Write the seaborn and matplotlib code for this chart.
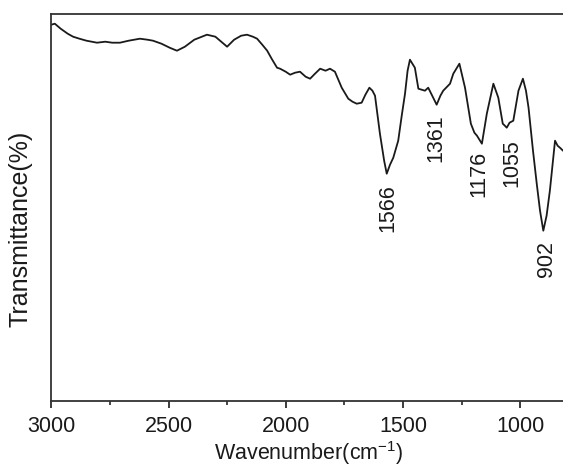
import numpy as np
import pandas as pd
import matplotlib
matplotlib.use("Agg")
import matplotlib.pyplot as plt
import seaborn as sns

# Spectrum (wavenumber cm^-1, relative transmittance)
wavenumber = [3000, 2985, 2960, 2930, 2907, 2880, 2850, 2805, 2770, 2740, 2707,
              2670, 2622, 2590, 2566, 2530, 2495, 2464, 2430, 2390, 2336, 2300,
              2270, 2250, 2220, 2190, 2165, 2140, 2122, 2100, 2079, 2060, 2037,
              2024, 2000, 1981, 1960, 1939, 1915, 1896, 1875, 1853, 1830, 1811,
              1790, 1761, 1733, 1715, 1697, 1676, 1660, 1643, 1630, 1619, 1598,
              1580, 1569, 1555, 1541, 1520, 1505, 1491, 1480, 1470, 1449, 1434,
              1420, 1406, 1392, 1375, 1356, 1340, 1328, 1299, 1285, 1259, 1235,
              1210, 1195, 1184, 1163, 1142, 1114, 1093, 1074, 1065, 1057, 1045,
              1029, 1007, 988, 975, 964, 945, 929, 915, 901, 887, 873, 851, 840,
              830, 817]
transmittance = [376, 377, 372, 367, 364, 362, 360, 358, 359, 358, 358,
                 360, 362, 361, 360, 357, 353, 350, 354, 361, 366, 364,
                 358, 354, 361, 365, 366, 364, 362, 356, 350, 342, 333,
                 332, 329, 326, 328, 329, 324, 322, 327, 332, 330, 332,
                 329, 313, 302, 299, 297, 298, 306, 313, 310, 305, 267,
                 240, 227, 236, 243, 260, 285, 307, 330, 341, 333, 312,
                 311, 310, 313, 305, 296, 305, 310, 317, 327, 337, 313,
                 277, 268, 265, 257, 287, 317, 303, 277, 275, 273, 278,
                 280, 310, 322, 310, 293, 250, 217, 190, 170, 185, 210,
                 260, 255, 253, 250]

peak_labels = [1566, 1361, 1176, 1055, 902]

df = pd.DataFrame({"Wavenumber": wavenumber, "Transmittance": transmittance})

sns.set_style("ticks")
plt.rcParams["font.family"] = ["Liberation Sans", "DejaVu Sans"]
plt.rcParams["mathtext.fontset"] = "custom"
plt.rcParams["mathtext.rm"] = "Liberation Sans"

fig = plt.figure(figsize=(5.63, 4.67), dpi=100)
ax = fig.add_axes([51.3 / 563, 66.3 / 467, 1 - 51.3 / 563, (400.7 - 14) / 467])

sns.lineplot(data=df, x="Wavenumber", y="Transmittance", ax=ax,
             color="#1a1a1a", linewidth=1.3, sort=False, estimator=None)

ax.set_xlim(3000, 817)
ax.set_ylim(0, 386.7)
ax.set_yticks([])
ax.set_xticks([3000, 2500, 2000, 1500, 1000])
ax.set_xticks([2750, 2250, 1750, 1250], minor=True)
ax.tick_params(axis="x", which="major", direction="out", length=5, width=1.2,
               labelsize=15.5, pad=6, colors="#1a1a1a")
ax.tick_params(axis="x", which="minor", direction="out", length=3, width=1.2)
for side in ["left", "bottom", "top"]:
    ax.spines[side].set_linewidth(1.3)
    ax.spines[side].set_color("#333333")
ax.spines["right"].set_visible(False)

ax.set_xlabel("Wavenumber(cm$^{-1}$)", fontsize=15.5, color="#1a1a1a")
ax.set_ylabel("Transmittance(%)", fontsize=18, color="#1a1a1a")
ax.xaxis.set_label_coords((309 - 51.3) / (563 - 51.3), -0.100)
ax.yaxis.set_label_coords(-0.036, 0.445)

label_dx = {1566: 0, 1361: 0, 1176: 0, 1055: -20, 902: -16}
order = np.argsort(wavenumber)
for p in peak_labels:
    ymin = np.interp(p, np.array(wavenumber)[order], np.array(transmittance)[order])
    ax.text(p + label_dx[p], ymin - 12, str(p), rotation=90, ha="center",
            va="top", fontsize=15.5, color="#1a1a1a")

fig.savefig("out.png", dpi=100)
